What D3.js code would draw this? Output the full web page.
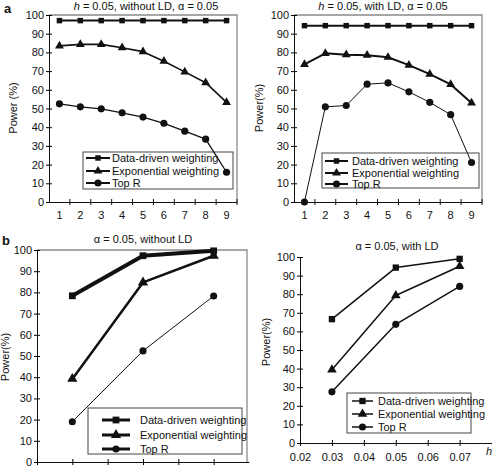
<!DOCTYPE html>
<html><head><meta charset="utf-8">
<script src="https://cdn.jsdelivr.net/npm/d3@7/dist/d3.min.js"></script>
<style>
body{margin:0;background:#fff;}
text{font-family:"Liberation Sans",Arial,sans-serif;fill:#111;}
</style></head>
<body><svg id="c" width="493" height="468"></svg>
<script>
// ---- data ----
const seriesNames = ["Data-driven weighting", "Exponential weighting", "Top R"];
const categoriesA = ["1","2","3","4","5","6","7","8","9"];
const yTicks = [0,10,20,30,40,50,60,70,80,90,100];

// Panel a, left: h = 0.05, without LD
const aLeftDataDriven = [97,97,97,97,97,97,97,97,97];
const aLeftExponential = [83.5,84.3,84.3,82.5,80.4,75.3,69.6,63.8,53.3];
const aLeftTopR = [52.5,50.9,49.8,47.7,45.4,42.1,37.9,33.6,15.9];

// Panel a, right: h = 0.05, with LD
const aRightDataDriven = [94.3,94.3,94.3,94.3,94.3,94.3,94.3,94.3,94.3];
const aRightExponential = [73.6,79.5,78.8,78.5,77.4,73.2,68.4,62.9,53.0];
const aRightTopR = [0,50.9,51.6,63.0,63.7,58.9,53.3,46.7,21.1];

// Panel b: x = h
const hValues = [0.03,0.05,0.07];
const hTicks = [0.02,0.03,0.04,0.05,0.06,0.07];
const bLeftDataDriven = [78.4,97.3,99.6];
const bLeftExponential = [39.2,84.7,97.3];
const bLeftTopR = [19.0,52.4,78.3];
const bRightDataDriven = [66.6,94.3,99.0];
const bRightExponential = [39.4,79.3,95.0];
const bRightTopR = [27.5,63.8,84.2];

const svg = d3.select("#c");
const markerTypes = [d3.symbolSquare, d3.symbolTriangle, d3.symbolCircle];

function drawMarker(g, type, x, y, size){
  g.append("path").attr("d", d3.symbol().type(type).size(size)())
   .attr("transform", `translate(${x},${y})`).attr("fill","#111");
}

function panel(cfg){
  const g = svg.append("g");
  const y = d3.scaleLinear().domain([0,100]).range([cfg.bottom, cfg.top]);
  let x, xs;
  if (cfg.band){
    x = d3.scaleBand().domain(categoriesA).range([cfg.left, cfg.right]);
    xs = categoriesA.map(c => x(c) + x.bandwidth()/2);
  } else {
    x = d3.scaleLinear().domain([0.02,0.08]).range([cfg.left, cfg.xEnd]);
    xs = hValues.map(v => x(v));
  }
  if (cfg.frame){
    g.append("path").attr("d",`M${cfg.left},${cfg.top}H${cfg.right}V${cfg.bottom}`)
     .attr("fill","none").attr("stroke","#8a8a8a").attr("stroke-width",1.3);
  }
  const ya = d3.axisLeft(y).tickValues(yTicks).tickSize(3).tickSizeOuter(0);
  const yg = g.append("g").attr("transform",`translate(${cfg.left},0)`).call(ya);
  yg.selectAll(".tick line").attr("x2",3).attr("x1",-3);
  yg.selectAll("text").attr("x",-5).style("font-size","11px").style("font-family","Liberation Sans, Arial, sans-serif");
  if (cfg.band){
    const xa = d3.axisBottom(x).tickSize(0).tickSizeOuter(0);
    const xg = g.append("g").attr("transform",`translate(0,${cfg.bottom})`).call(xa);
    xg.selectAll("text").attr("dy","1.25em").style("font-size","11px").style("font-family","Liberation Sans, Arial, sans-serif");
    const bounds = categoriesA.map(c => x(c)).slice(1).concat([cfg.right]);
    xg.selectAll(".btick").data(bounds).enter().append("line")
      .attr("x1",d=>d).attr("x2",d=>d).attr("y1",-3).attr("y2",3).attr("stroke","#111");
  } else {
    const xa = d3.axisBottom(x).tickValues(hTicks).tickSize(3).tickSizeOuter(0)
      .tickFormat(cfg.xLabels ? d3.format(".2f") : "");
    const xg = g.append("g").attr("transform",`translate(0,${cfg.bottom})`).call(xa);
    xg.selectAll(".tick line").attr("y1",-3).attr("y2",3);
    xg.selectAll("text").attr("dy","1.1em").style("font-size","11px").style("font-family","Liberation Sans, Arial, sans-serif");
  }
  g.selectAll(".domain").attr("stroke","#111");
  if (cfg.hLabel){
    g.append("text").attr("x",489).attr("y",cfg.bottom+12).attr("text-anchor","middle")
     .style("font-size","11px").style("font-style","italic").text("h");
  }
  const t = g.append("text").attr("x",cfg.titleX).attr("y",cfg.titleY).attr("text-anchor","middle")
    .style("font-size","11px");
  cfg.title.forEach(p => t.append("tspan").style("font-style",p[1]?"italic":"normal").text(p[0]));
  g.append("text").attr("transform",`translate(${cfg.ylabX},${cfg.ylabY}) rotate(-90)`)
    .attr("text-anchor","middle").style("font-size","11px").text(cfg.ylab);
  const L = cfg.legend;
  g.append("rect").attr("x",L.x).attr("y",L.y).attr("width",L.w).attr("height",L.h)
   .attr("fill","#fff").attr("stroke","#444").attr("stroke-width",1);
  seriesNames.forEach((n,i)=>{
    const ry = L.rows[i];
    g.append("line").attr("x1",L.lx1).attr("x2",L.lx2).attr("y1",ry).attr("y2",ry)
     .attr("stroke","#111").attr("stroke-width",L.lw);
    drawMarker(g, markerTypes[i], (L.lx1+L.lx2)/2, ry, cfg.msize[i]);
    g.append("text").attr("x",L.tx).attr("y",ry+4).style("font-size","11px").text(n);
  });
  cfg.series.forEach((vals,i) => {
    const line = d3.line().x((d,j)=>xs[j]).y(d=>y(d));
    g.append("path").attr("d",line(vals)).attr("fill","none").attr("stroke","#111")
     .attr("stroke-width",cfg.widths[i]).attr("stroke-linejoin","round");
    vals.forEach((v,j)=>drawMarker(g, markerTypes[i], xs[j], y(v), cfg.msize[i]));
  });
}

panel({band:true,left:49,right:237,top:15,bottom:202,frame:true,
  title:[["h",true],[" = 0.05, without LD, α = 0.05",false]],titleX:146,titleY:10,
  ylab:"Power (%)",ylabX:17,ylabY:108,
  series:[aLeftDataDriven,aLeftExponential,aLeftTopR],widths:[2,1.6,1.3],msize:[30,34,40],
  legend:{x:83,y:152,w:150,h:37,rows:[158,171,183],lx1:86,lx2:110,lw:2,tx:112}});

panel({band:true,left:294,right:482,top:15,bottom:202,frame:true,
  title:[["h",true],[" = 0.05, with LD, α = 0.05",false]],titleX:383,titleY:10,
  ylab:"Power(%)",ylabX:263,ylabY:108,
  series:[aRightDataDriven,aRightExponential,aRightTopR],widths:[2,2,1],msize:[30,34,40],
  legend:{x:322,y:153,w:157,h:35,rows:[161,173,184],lx1:325,lx2:348,lw:2,tx:352}});

panel({band:false,left:37,right:247,xEnd:249,top:250,bottom:462,frame:true,xLabels:false,
  title:[["α = 0.05, without LD",false]],titleX:143,titleY:243,
  ylab:"Power(%)",ylabX:9,ylabY:357,
  series:[bLeftDataDriven,bLeftExponential,bLeftTopR],widths:[4,2.5,1],msize:[46,46,40],
  legend:{x:88,y:408,w:154,h:46,rows:[420,435,449],lx1:102,lx2:130,lw:3,tx:140}});

panel({band:false,left:300,right:488,xEnd:491.6,top:257,bottom:443,frame:false,xLabels:true,hLabel:true,
  title:[["α = 0.05, with LD",false]],titleX:397,titleY:250,
  ylab:"Power(%)",ylabX:270,ylabY:342,
  series:[bRightDataDriven,bRightExponential,bRightTopR],widths:[1.5,1.5,1.5],msize:[40,40,40],
  legend:{x:347,y:393,w:124,h:40,rows:[401,414,427],lx1:352,lx2:373,lw:1.5,tx:378}});

svg.append("text").attr("x",4).attr("y",13).style("font-size","13px").style("font-weight","bold").text("a");
svg.append("text").attr("x",2).attr("y",245).style("font-size","13px").style("font-weight","bold").text("b");
</script></body></html>
